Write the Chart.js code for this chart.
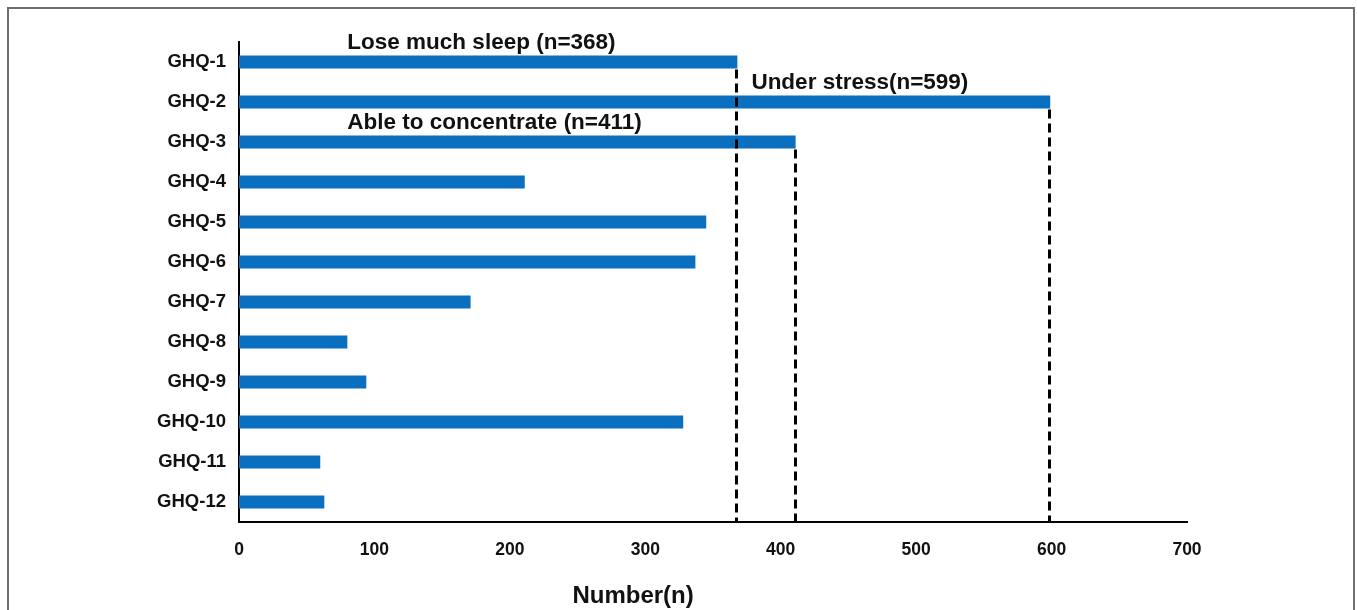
<!DOCTYPE html>
<html>
<head>
<meta charset="utf-8">
<title>GHQ items</title>
<script src="https://cdn.jsdelivr.net/npm/chart.js@4"></script>
<style>
    body { margin: 0; background: #fff; }
    #wrap { width: 1357px; height: 610px; }
</style>
</head>
<body>
<div id="wrap"><canvas id="ghqChart" width="1357" height="610"></canvas></div>
<script>
// Chart data
const categories = ['GHQ-1', 'GHQ-2', 'GHQ-3', 'GHQ-4', 'GHQ-5', 'GHQ-6',
    'GHQ-7', 'GHQ-8', 'GHQ-9', 'GHQ-10', 'GHQ-11', 'GHQ-12'];
const counts = [368, 599, 411, 211, 345, 337, 171, 80, 94, 328, 60, 63];
const xTicks = [0, 100, 200, 300, 400, 500, 600, 700];
const xTitle = 'Number(n)';

// Highlighted items (index into categories) and their notes
const noteItems = [0, 1, 2];
const noteText = ['Lose much sleep (n=368)', 'Under stress(n=599)', 'Able to concentrate (n=411)'];

const barColor = '#0B6FBF';
const fontFamily = '"Liberation Sans", Arial, sans-serif';

// Frame, dashed drop lines, notes and axis title
const notesPlugin = {
    id: 'notes',
    beforeDraw(chart) {
        const ctx = chart.ctx;
        ctx.save();
        ctx.fillStyle = '#fff';
        ctx.fillRect(0, 0, chart.width, chart.height);
        // outer frame
        ctx.strokeStyle = '#6e6e6e';
        ctx.lineWidth = 2;
        ctx.strokeRect(8, 8, chart.width - 11, chart.height + 10);
        ctx.restore();
    },
    afterDatasetsDraw(chart) {
        const ctx = chart.ctx;
        const bars = chart.getDatasetMeta(0).data;
        const x = chart.scales.x;
        const bottom = chart.chartArea.bottom;
        ctx.save();
        ctx.strokeStyle = '#000';
        ctx.lineWidth = 3;
        ctx.setLineDash([9, 5]);
        noteItems.forEach(i => {
            const bar = bars[i];
            const px = Math.round(bar.x) - 0.5;
            ctx.beginPath();
            ctx.moveTo(px, bar.y + bar.height / 2 + 1);
            ctx.lineTo(px, bottom - 1);
            ctx.stroke();
        });
        ctx.setLineDash([]);

        ctx.fillStyle = '#111';
        ctx.font = 'bold 22.5px ' + fontFamily;
        ctx.textAlign = 'left';
        ctx.textBaseline = 'alphabetic';
        noteItems.forEach((i, k) => {
            const bar = bars[i];
            const top = bar.y - bar.height / 2;
            let left = x.getPixelForValue(80);
            if (k === 1) left = bars[noteItems[0]].x + 14;
            ctx.fillText(noteText[k], left, top - 6);
        });

        // x axis title (sits left of the plot centre in the original)
        ctx.font = 'bold 24px ' + fontFamily;
        ctx.textAlign = 'center';
        ctx.fillText(xTitle, x.getPixelForValue(291), 603);
        ctx.restore();
    }
};

new Chart(document.getElementById('ghqChart').getContext('2d'), {
    type: 'bar',
    data: {
        labels: categories,
        datasets: [{
            label: 'Number',
            data: counts,
            backgroundColor: barColor,
            borderWidth: 0,
            barPercentage: 0.33,
            categoryPercentage: 1.0
        }]
    },
    options: {
        indexAxis: 'y',
        responsive: false,
        animation: false,
        layout: { padding: { left: 0, right: 170, top: 42, bottom: 0 } },
        plugins: {
            legend: { display: false },
            tooltip: { enabled: false }
        },
        scales: {
            x: {
                min: 0,
                max: 700,
                afterBuildTicks: scale => { scale.ticks = xTicks.map(v => ({ value: v })); },
                afterFit: scale => { scale.height = 88; },
                grid: { display: false, drawTicks: false },
                border: { display: true, color: '#000', width: 2 },
                ticks: {
                    padding: 18,
                    color: '#111',
                    font: { family: fontFamily, size: 17.5, weight: 'bold' }
                }
            },
            y: {
                afterFit: scale => { scale.width = 239; },
                grid: { display: false, drawTicks: false },
                border: { display: true, color: '#000', width: 2 },
                ticks: {
                    padding: 13,
                    color: '#111',
                    font: { family: fontFamily, size: 18.5, weight: 'bold' }
                }
            }
        }
    },
    plugins: [notesPlugin]
});
</script>
</body>
</html>
